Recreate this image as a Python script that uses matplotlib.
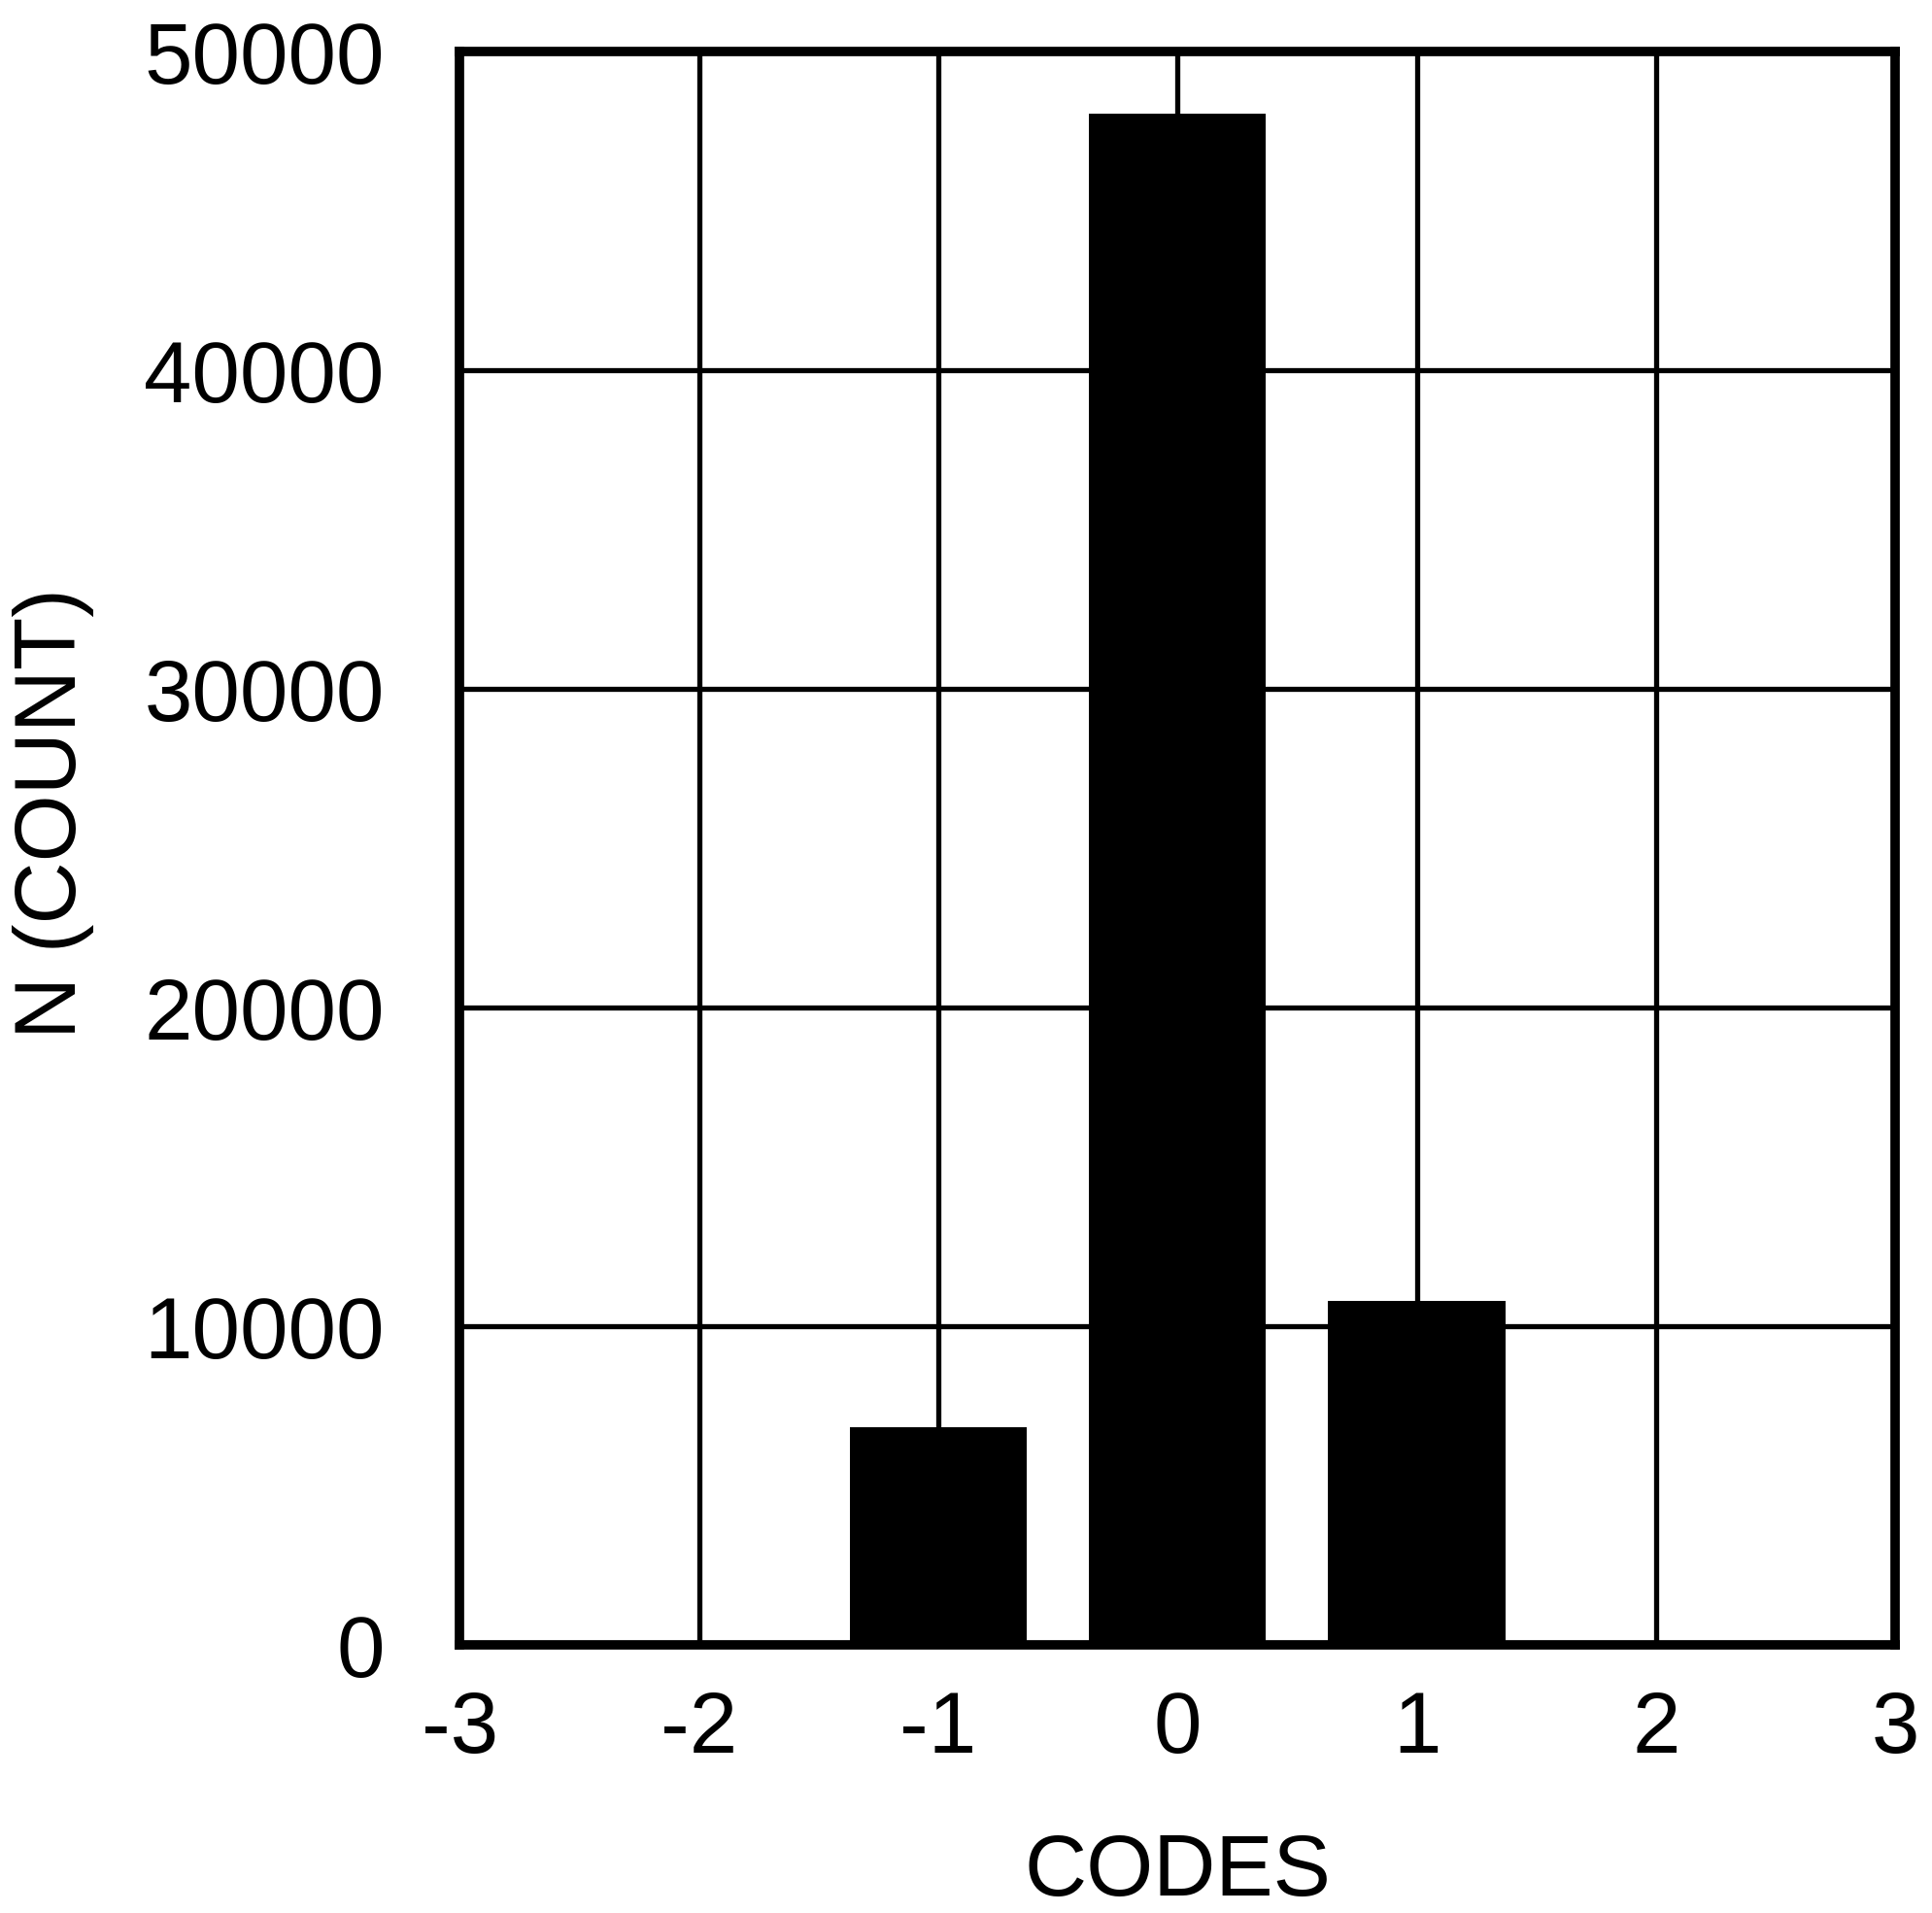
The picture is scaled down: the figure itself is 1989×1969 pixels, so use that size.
import matplotlib
matplotlib.use("Agg")
from matplotlib import pyplot
import numpy as np

# histogram of output codes
codes = [-1, 0, 1]
counts = [6850, 48050, 10800]
x_ticks = [-3, -2, -1, 0, 1, 2, 3]
y_ticks = [0, 10000, 20000, 30000, 40000, 50000]

pyplot.rcParams['font.family'] = ['Liberation Sans', 'DejaVu Sans']

fig = pyplot.figure(figsize=(19.89, 19.69), dpi=100)
ax = fig.add_axes([0.238, 0.140, 0.743, 0.833])

ax.set_axisbelow(True)
ax.grid(True, color="black", lw=3.8)
ax.bar(codes, counts, width=0.74, color="black", zorder=2)

ax.set_xlim(-3, 3)
ax.set_ylim(0, 50000)
ax.set_xticks(x_ticks)
ax.set_xticklabels([str(v) for v in x_ticks])
ax.set_yticks(y_ticks)
ax.set_yticklabels([str(v) for v in y_ticks])

for spine in ax.spines.values():
    spine.set_linewidth(7)
    spine.set_zorder(3)

ax.tick_params(axis="x", length=0, pad=33, labelsize=64)
ax.tick_params(axis="y", length=0, pad=56, labelsize=64)

ax.set_xlabel("CODES", fontsize=64, labelpad=45)
ax.set_ylabel("N (COUNT)", fontsize=64)
ax.yaxis.set_label_coords(-0.255, 0.522)

fig.savefig("out.png", dpi=100)
